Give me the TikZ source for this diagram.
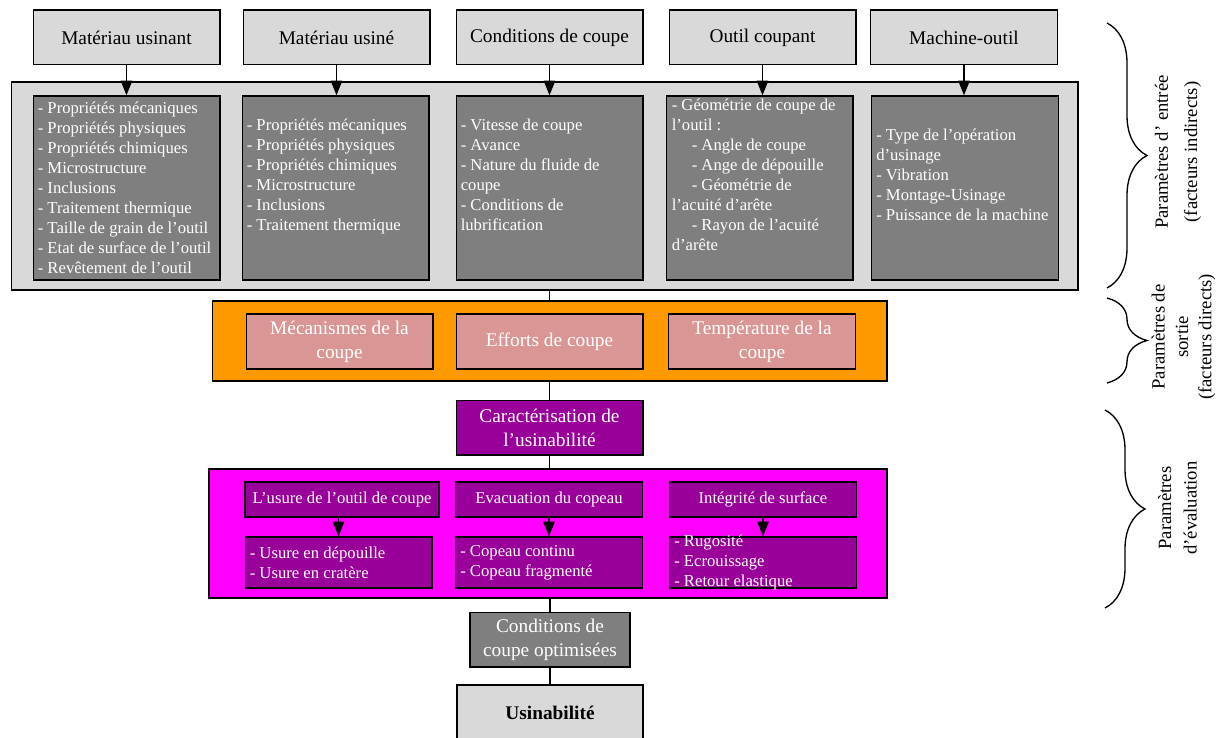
\documentclass[tikz,border=0pt]{standalone}
\usepackage{fontspec}
\setmainfont{Liberation Serif}
\usepackage{xcolor}
\usetikzlibrary{arrows.meta,decorations.pathreplacing}

\definecolor{boxgray}{HTML}{D9D9D9}
\definecolor{listgray}{HTML}{7F7F7F}
\definecolor{cutorange}{HTML}{FF9900}
\definecolor{cutpink}{HTML}{D99694}
\definecolor{evalpurple}{HTML}{990099}
\definecolor{evalmagenta}{HTML}{FF00FF}

\begin{document}
\begin{tikzpicture}[x=0.75pt, y=-0.75pt]
    % Define styles
    \tikzstyle{head} = [rectangle, draw, line width=1pt, fill=boxgray, minimum width=140pt, minimum height=41pt, inner sep=0pt, font=\fontsize{14.5}{17}\selectfont]
    \tikzstyle{group} = [rectangle, draw, line width=1pt, inner sep=0pt]
    \tikzstyle{listbox} = [rectangle, draw, line width=1pt, fill=listgray, minimum width=140pt, minimum height=138pt, inner sep=0pt]
    \tikzstyle{listtext} = [anchor=west, align=left, inner sep=0pt, text=white, font=\fontsize{12.5}{15}\selectfont]
    \tikzstyle{pinkbox} = [rectangle, draw, line width=1pt, fill=cutpink, text=white, minimum width=140pt, minimum height=41pt, inner sep=0pt, align=center, font=\fontsize{14.5}{18}\selectfont]
    \tikzstyle{evalbox} = [rectangle, draw, line width=1pt, fill=evalpurple, text=white, minimum width=140pt, inner sep=0pt, align=center, font=\fontsize{12.5}{15}\selectfont]
    \tikzstyle{arrow} = [line width=1.3pt, -{Triangle[width=8.5pt,length=11pt]}]
    \tikzstyle{link} = [line width=1.2pt]
    \tikzstyle{side} = [decorate, decoration={brace, amplitude=30pt}, line width=1pt]
    \tikzstyle{sidetext} = [rotate=90, align=center, inner sep=0pt]

    \useasboundingbox (0,0) rectangle (1222,738);

    % Input headers
    \node[head] (usinant) at (126.5,37.5) {Matériau usinant};
    \node[head] (usine) at (336.5,37.5) {Matériau usiné};
    \node[head] (conditions) at (549.5,37.5) {Conditions de coupe};
    \node[head] (outil) at (762.5,37.5) {Outil coupant};
    \node[head] (machine) at (964,37.5) {Machine-outil};

    % Input parameters
    \node[group, fill=boxgray, minimum width=800pt, minimum height=156pt] (entree) at (544.5,186) {};
    \node[listbox] (l1) at (126.5,188) {};
    \node[listbox] (l2) at (335.5,188) {};
    \node[listbox] (l3) at (549.5,188) {};
    \node[listbox] (l4) at (759.5,188) {};
    \node[listbox] (l5) at (965,188) {};

    \node[listtext] (t1) at ([xshift=3.75pt]l1.west) {
        - Propriétés mécaniques\\
        - Propriétés physiques\\
        - Propriétés chimiques\\
        - Microstructure\\
        - Inclusions\\
        - Traitement thermique\\
        - Taille de grain de l’outil\\
        - Etat de surface de l’outil\\
        - Revêtement de l’outil
    };
    \node[listtext] (t2) at ([xshift=3.75pt]l2.west) {
        - Propriétés mécaniques\\
        - Propriétés physiques\\
        - Propriétés chimiques\\
        - Microstructure\\
        - Inclusions\\
        - Traitement thermique\\
        \strut
    };
    \node[listtext] (t3) at ([xshift=3.75pt]l3.west) {
        - Vitesse de coupe\\
        - Avance\\
        - Nature du fluide de\\
        coupe\\
        - Conditions de\\
        lubrification\\
        \strut
    };
    \node[listtext] (t4) at ([xshift=4.5pt]l4.west) {
        - Géométrie de coupe de\\
        l’outil :\\
        \hspace*{15pt}- Angle de coupe\\
        \hspace*{15pt}- Ange de dépouille\\
        \hspace*{15pt}- Géométrie de\\
        l’acuité d’arête\\
        \hspace*{15pt}- Rayon de l’acuité\\
        d’arête\\
        \strut
    };
    \node[listtext] (t5) at ([xshift=3.75pt]l5.west) {
        - Type de l’opération\\
        d’usinage\\
        - Vibration\\
        - Montage-Usinage\\
        - Puissance de la machine\\
        \strut
    };

    \draw[arrow] (usinant.south) -- (usinant.south |- l1.north);
    \draw[arrow] (usine.south) -- (usine.south |- l2.north);
    \draw[arrow] (conditions.south) -- (conditions.south |- l3.north);
    \draw[arrow] (outil.south) -- (outil.south |- l4.north);
    \draw[arrow] (machine.south) -- (machine.south |- l5.north);

    % Output parameters
    \node[group, fill=cutorange, minimum width=506pt, minimum height=60pt] (sortie) at (549.5,341) {};
    \node[pinkbox] (mecanismes) at (339.5,341.5) {Mécanismes de la\\coupe};
    \node[pinkbox] (efforts) at (549.5,341.5) {Efforts de coupe};
    \node[pinkbox] (temperature) at (762,341.5) {Température de la\\coupe};

    \node[pinkbox, fill=evalpurple] (caract) at (549.5,427.5) {Caractérisation de\\l’usinabilité};

    % Evaluation parameters
    \node[group, fill=evalmagenta, minimum width=508.5pt, minimum height=96.75pt] (evaluation) at (548,533.5) {};
    \node[evalbox, minimum width=145.5pt, minimum height=26.25pt] (usure) at (342,499.5) {L’usure de l’outil de coupe};
    \node[evalbox, minimum height=26.25pt] (evacuation) at (549,499.5) {Evacuation du copeau};
    \node[evalbox, minimum height=26.25pt] (integrite) at (763,499.5) {Intégrité de surface};
    \node[evalbox, minimum height=38.25pt] (e1) at (338.5,562.5) {};
    \node[evalbox, minimum height=38.25pt] (e2) at (549,562.5) {};
    \node[evalbox, minimum height=38.25pt] (e3) at (763,562.5) {};
    \node[listtext] (u1) at ([xshift=3.75pt]e1.west) {- Usure en dépouille\\- Usure en cratère};
    \node[listtext] (u2) at ([xshift=3.75pt]e2.west) {- Copeau continu\\- Copeau fragmenté};
    \node[listtext] (u3) at ([xshift=3.75pt]e3.west) {- Rugosité\\- Ecrouissage\\- Retour elastique};

    \draw[arrow] (e1.north |- usure.south) -- (e1.north);
    \draw[arrow] (evacuation.south) -- (evacuation.south |- e2.north);
    \draw[arrow] (integrite.south) -- (integrite.south |- e3.north);

    % Result
    \node[pinkbox, fill=listgray, minimum width=120pt] (optimisees) at (550,639.5) {Conditions de\\coupe optimisées};
    \node[head, minimum width=139.5pt, minimum height=42pt] (usinabilite) at (550,713) {\textbf{Usinabilité}};

    % Links
    \draw[link] (sortie.north |- entree.south) -- (sortie.north);
    \draw[link] (caract.north |- sortie.south) -- (caract.north);
    \draw[link] (caract.south) -- (caract.south |- evaluation.north);
    \draw[link] (optimisees.north |- evaluation.south) -- (optimisees.north);
    \draw[link] (optimisees.south) -- (optimisees.south |- usinabilite.north);

    % Braces
    \draw[side] (1107,23) -- (1107,288);
    \draw[side] (1107,298) -- (1107,383);
    \draw[side] (1105,410) -- (1105,608);
    \node[sidetext, font=\fontsize{14}{22}\selectfont] (labentree) at (1178,152) {Paramètres d’ entrée\\(facteurs indirects)};
    \node[sidetext, font=\fontsize{14}{17.5}\selectfont] (labsortie) at (1183.5,337) {Paramètres de\\sortie\\(facteurs directs)};
    \node[sidetext, font=\fontsize{14}{19}\selectfont] (labeval) at (1177.5,508) {Paramètres\\d’évaluation};
\end{tikzpicture}
\end{document}
